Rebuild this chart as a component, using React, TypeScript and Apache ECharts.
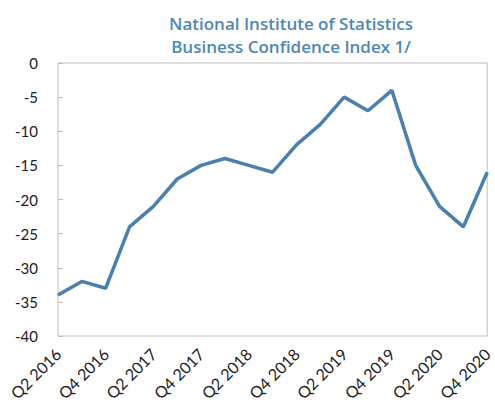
import React, { useEffect, useRef } from "react";
import * as echarts from "echarts";

const categories = [
  "Q2 2016", "Q3 2016", "Q4 2016",
  "Q1 2017", "Q2 2017", "Q3 2017", "Q4 2017",
  "Q1 2018", "Q2 2018", "Q3 2018", "Q4 2018",
  "Q1 2019", "Q2 2019", "Q3 2019", "Q4 2019",
  "Q1 2020", "Q2 2020", "Q3 2020", "Q4 2020",
];
const values = [-34, -32, -33, -24, -21, -17, -15, -14, -15, -16, -12, -9, -5, -7, -4, -15, -21, -24, -16];
const titleLines = ["National Institute of Statistics", "Business Confidence Index 1/"];

export default function App() {
  const ref = useRef<HTMLDivElement>(null);
  useEffect(() => {
    if (!ref.current) return;
    const chart = echarts.init(ref.current, undefined, { renderer: "svg" });
    chart.setOption({
      animation: false,
      title: {
        text: titleLines.join("\n"),
        left: 291,
        top: 12,
        padding: 0,
        textAlign: "center",
        textStyle: {
          fontFamily: "Open Sans",
          fontSize: 17,
          fontWeight: 600,
          color: "#4f86b8",
          lineHeight: 23,
        },
      },
      grid: {
        left: 58,
        right: 6,
        top: 63,
        bottom: 73,
        show: true,
        borderColor: "#bfbfbf",
        borderWidth: 1,
      },
      xAxis: {
        type: "category",
        data: categories,
        boundaryGap: false,
        axisLine: { show: false },
        axisTick: { show: false },
        axisLabel: {
          interval: 1,
          rotate: 45,
          margin: 15,
          fontFamily: "Lato",
          fontSize: 16,
          color: "#222222",
        },
      },
      yAxis: {
        type: "value",
        min: -40,
        max: 0,
        interval: 5,
        splitLine: { show: false },
        axisLine: { show: false },
        axisTick: { show: true, inside: true, length: 5, lineStyle: { color: "#bfbfbf" } },
        axisLabel: {
          margin: 20,
          fontFamily: "Lato",
          fontSize: 15,
          color: "#1a1a2a",
        },
      },
      series: [
        {
          type: "line",
          data: values,
          symbol: "none",
          lineStyle: { color: "#4a7fae", width: 3.5 },
        },
      ],
    });
    return () => chart.dispose();
  }, []);
  return (
    <div
      ref={ref}
      style={{ position: "absolute", left: 0, top: 0, width: 495, height: 409 }}
    />
  );
}
